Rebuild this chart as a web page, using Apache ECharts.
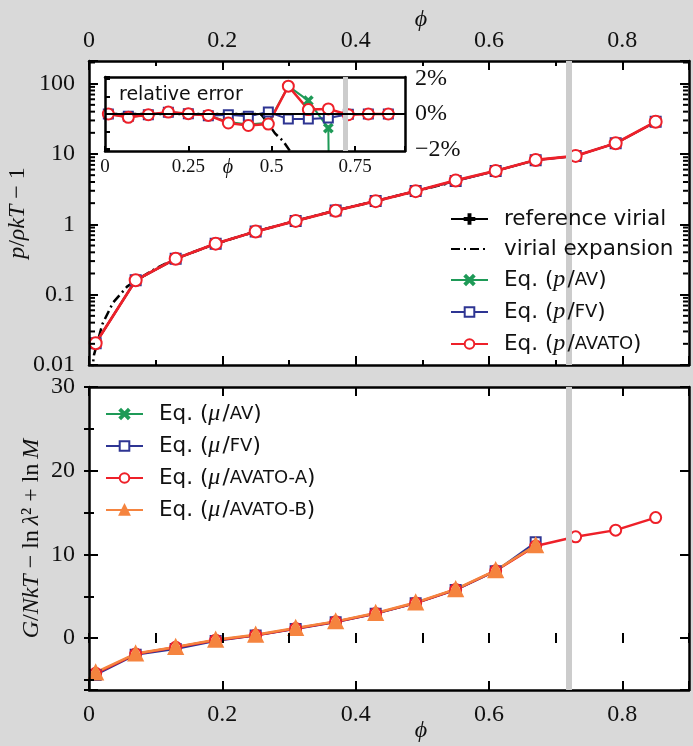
<!DOCTYPE html>
<html><head><meta charset="utf-8">
<style>html,body{margin:0;padding:0;background:#d9d9d9}#c{width:693px;height:746px}</style>
<script src="https://cdn.jsdelivr.net/npm/echarts@6.0.0/dist/echarts.min.js"></script>
</head><body><div id="c"></div>
<script>
// ---------------- data ----------------
const phi = [0.01,0.07,0.13,0.19,0.25,0.31,0.37,0.43,0.49,0.55,0.61,0.67,0.73,0.79,0.85];

// top panel: p/rho kT - 1
const pRef   = [0.0204,0.160,0.324,0.530,0.790,1.120,1.570,2.150,2.980,4.140,5.740,8.20,9.40,14.2,28.7];
const pAV    = [0.0204,0.160,0.324,0.531,0.790,1.119,1.563,2.137,2.965,4.205,5.784,8.13];
const pFV    = [0.0204,0.160,0.324,0.531,0.790,1.119,1.569,2.147,2.983,4.128,5.723,8.18,9.40,14.2,28.7];
const pAVATO = [0.0204,0.160,0.324,0.531,0.790,1.119,1.562,2.136,2.963,4.205,5.754,8.22,9.40,14.2,28.7];
const phiVir = [0.004,0.0075,0.02,0.036,0.057,0.07,0.10,0.13,0.19,0.25,0.31,0.37,0.43,0.49,0.55];
const pVir   = [0.0074,0.0139,0.038,0.077,0.130,0.158,0.235,0.325,0.530,0.790,1.120,1.570,2.140,2.960,4.060];

// inset: relative error (%)
const errRef   = [0,0,0,0,0,0,0,0,0,0,0,0,0,0,0];
const errAV    = [0,-0.19,-0.04,0.11,0.02,-0.08,-0.45,-0.60,-0.50,1.58,0.76,-0.80,-100];
const errFV    = [0,-0.13,-0.04,0.10,0.02,-0.10,-0.04,-0.13,0.11,-0.29,-0.29,-0.23,-0.02,0,0];
const errAVATO = [0,-0.19,-0.04,0.11,0.02,-0.08,-0.51,-0.65,-0.57,1.58,0.25,0.29,-0.04,0,0];
const phiVirErr = [0.01,0.10,0.20,0.30,0.40,0.45,0.47,0.49,0.51,0.535,0.555,0.57];
const errVir    = [0,0,0,0,0,0,-0.05,-0.55,-1.10,-1.55,-2.10,-2.60];

// bottom panel: G/NkT - ln lambda^2 + ln M
const muAV     = [-4.30,-1.90,-1.10,-0.25,0.35,1.15,1.95,2.95,4.20,5.80,8.05,11.10];
const muFV     = [-4.40,-2.00,-1.30,-0.35,0.30,1.10,1.90,2.90,4.15,5.75,8.00,11.45];
const muAVATOA = [-4.20,-1.90,-1.10,-0.25,0.35,1.15,1.95,2.95,4.20,5.80,8.05,11.00,12.10,12.90,14.40];
const muAVATOB = [-4.10,-1.85,-1.05,-0.20,0.40,1.20,2.00,3.00,4.25,5.85,8.10,11.10];

// axes / ticks
const phiMark = 0.72;
const xTicksMain = [0,0.2,0.4,0.6,0.8];
const xTicksInset = [0,0.25,0.5,0.75];
const yTicksLog = [0.01,0.1,1,10,100];
const yTicksMu = [0,10,20,30];
const yTicksErr = [-2,0,2];
const yMinorLog = [0.02,0.03,0.04,0.05,0.06,0.07,0.08,0.09,0.2,0.3,0.4,0.5,0.6,0.7,0.8,0.9,
                   2,3,4,5,6,7,8,9,20,30,40,50,60,70,80,90,200];

// ---------------- style ----------------
const SERIF = 'Liberation Serif, DejaVu Serif, serif', SANS = 'DejaVu Sans';
const RED='#ee2029', BLUE='#2e3593', GREEN='#1e9a57', ORANGE='#f5843f', GRAY='#cccccc';
const plusPath  = 'path://M4,0H6V4H10V6H6V10H4V6H0V4H4Z';
const crossPath = 'path://M1.4,0L5,3.6L8.6,0L10,1.4L6.4,5L10,8.6L8.6,10L5,6.4L1.4,10L0,8.6L3.6,5L0,1.4Z';
const PHI = '\u03D5';

function pairs(xs, ys){ return ys.map((y,i)=>[xs[i], y]); }
function near(v, arr){ return arr.some(t => Math.abs(v - t) < 1e-6 * Math.max(1, Math.abs(t))); }

function tickSeries(xi, yi, data, size, offset){
  return {type:'scatter', xAxisIndex:xi, yAxisIndex:yi, data, symbol:'rect', symbolSize:size, symbolOffset:offset,
    itemStyle:{color:'#000', opacity:1}, silent:true, clip:false, z:6, emphasis:{disabled:true}};
}

const axLine = {show:true, onZero:false, lineStyle:{color:'#000', width:2.5}};
const axTick = (len)=>({show:true, inside:true, length:len, lineStyle:{color:'#000', width:2}});
const noLine = {show:false};
const numLabel = {fontFamily:SERIF, fontSize:24, color:'#111'};

function fmtX(v){ return near(v, xTicksMain) ? String(+v.toFixed(1)) : ''; }
function fmtXi(v){ return near(v, xTicksInset) ? String(+v.toFixed(2)) : ''; }
function fmtLog(v){
  if (!near(v, yTicksLog)) return '';
  const r = Math.round(Math.log10(v));
  return r < 0 ? Math.pow(10, r).toFixed(-r) : String(Math.pow(10, r));
}
function fmtMu(v){ return near(v, yTicksMu) ? String(Math.round(v)) : ''; }
function fmtErr(v){ if (!near(v, yTicksErr)) return ''; const r = Math.round(v); return (r<0?'\u2212':'') + Math.abs(r) + '%'; }

const phiName = {fontFamily:SERIF, fontStyle:'italic', fontSize:24, color:'#111'};
const X = {type:'value', min:0, max:0.9, splitLine:{show:false}, z:4};

// minor-tick axes (no line, no labels)
function minorX(gi, pos){ return Object.assign({}, X, {gridIndex:gi, position:pos, interval:0.1, axisLine:noLine, axisTick:axTick(5), axisLabel:{show:false}}); }

const xAxes = [
  // 0: main top (labelled)
  Object.assign({}, X, {gridIndex:0, position:'top', interval:0.2, axisLine:axLine, axisTick:axTick(9),
   axisLabel:Object.assign({margin:8, formatter:fmtX}, numLabel),
   name:PHI, nameLocation:'middle', nameGap:29, nameMoveOverlap:false, nameTextStyle:Object.assign({padding:[0,0,0,64]}, phiName)}),
  // 1: main bottom
  Object.assign({}, X, {gridIndex:0, position:'bottom', interval:0.2, axisLine:axLine, axisTick:axTick(9), axisLabel:{show:false}}),
  // 2: inset bottom
  Object.assign({}, X, {gridIndex:1, position:'bottom', interval:0.25, axisLine:axLine, axisTick:axTick(5),
   axisLabel:{margin:7, formatter:fmtXi, fontFamily:SERIF, fontSize:19, color:'#111'},
   name:PHI, nameLocation:'middle', nameGap:7, nameMoveOverlap:false,
   nameTextStyle:{fontFamily:SERIF, fontStyle:'italic', fontSize:20, color:'#111', padding:[0,54,0,0]}}),
  // 3: inset top
  Object.assign({}, X, {gridIndex:1, position:'top', interval:0.25, axisLine:axLine, axisTick:{show:false}, axisLabel:{show:false}}),
  // 4: bottom panel bottom (labelled)
  Object.assign({}, X, {gridIndex:2, position:'bottom', interval:0.2, axisLine:axLine, axisTick:axTick(9),
   axisLabel:Object.assign({margin:13, formatter:fmtX}, numLabel),
   name:PHI, nameLocation:'middle', nameGap:29, nameMoveOverlap:false, nameTextStyle:Object.assign({padding:[0,0,0,64]}, phiName)}),
  // 5: bottom panel top
  Object.assign({}, X, {gridIndex:2, position:'top', interval:0.2, axisLine:axLine, axisTick:axTick(9), axisLabel:{show:false}}),
  // 6-9: minor ticks
  minorX(0, 'top'), minorX(0, 'bottom'), minorX(2, 'top'), minorX(2, 'bottom')
];

const nameRich = {i:{fontFamily:SERIF, fontStyle:'italic', fontSize:24, color:'#111'}};
const LOG = {type:'log', logBase:10, min:0.01, max:210, splitLine:{show:false}, z:4};
const MU = {type:'value', min:-6.2, max:30, splitLine:{show:false}, z:4};
const yAxes = [
  // 0: main left log
  Object.assign({}, LOG, {gridIndex:0, position:'left', axisLine:axLine, axisTick:axTick(9),
   axisLabel:Object.assign({margin:14, formatter:fmtLog}, numLabel),
   name:'{i|p}/{i|ρkT}\u2005\u2212\u20051', nameLocation:'middle', nameGap:59, nameRotate:90, nameMoveOverlap:false,
   nameTextStyle:{fontFamily:SERIF, fontSize:24, color:'#111', rich:nameRich}}),
  // 1: main right log
  Object.assign({}, LOG, {gridIndex:0, position:'right', axisLine:axLine, axisTick:axTick(9), axisLabel:{show:false}}),
  // 2: inset left
  {type:'value', gridIndex:1, position:'left', min:-2.1, max:2.1, axisLine:axLine, axisTick:axTick(5), z:4,
   axisLabel:{show:false}, splitLine:{show:false}},
  // 3: inset right (labelled)
  {type:'value', gridIndex:1, position:'right', min:-2.1, max:2.1, axisLine:axLine, axisTick:{show:false}, z:4,
   axisLabel:Object.assign({margin:10, formatter:fmtErr}, numLabel), splitLine:{show:false}},
  // 4: bottom left
  Object.assign({}, MU, {gridIndex:2, position:'left', axisLine:axLine, axisTick:axTick(9),
   axisLabel:Object.assign({margin:14, formatter:fmtMu}, numLabel),
   name:'{i|G}/{i|NkT}\u2005\u2212\u2005ln\u2009{i|λ}²\u2005+\u2005ln\u2009{i|M}', nameLocation:'middle', nameGap:45, nameRotate:90, nameMoveOverlap:false,
   nameTextStyle:{fontFamily:SERIF, fontSize:24, color:'#111', rich:nameRich}}),
  // 5: bottom right
  Object.assign({}, MU, {gridIndex:2, position:'right', axisLine:axLine, axisTick:axTick(9), axisLabel:{show:false}}),
  // 6-7: bottom minor ticks (5-unit steps)
  Object.assign({}, MU, {gridIndex:2, position:'left', splitNumber:8, axisLine:noLine, axisTick:axTick(5), axisLabel:{show:false}}),
  Object.assign({}, MU, {gridIndex:2, position:'right', splitNumber:8, axisLine:noLine, axisTick:axTick(5), axisLabel:{show:false}})
];

const grayLine = {silent:true, symbol:['none','none'], label:{show:false}, animation:false,
  lineStyle:{color:GRAY, width:6, type:'solid'}, data:[{xAxis:phiMark}]};

function lineSeries(name, xi, yi, data, color, symbol, size, width, extra){
  return Object.assign({type:'line', name, xAxisIndex:xi, yAxisIndex:yi, data, symbol, symbolSize:size,
    showAllSymbol:true, clip:true, lineStyle:{color, width}, itemStyle:{color, borderColor:color, borderWidth:2},
    emphasis:{disabled:true}}, extra||{});
}
const dashDot = [9,4,2,4];

const series = [
  // main panel
  lineSeries('reference virial', 0, 0, pairs(phi, pRef), '#000', plusPath, 9, 2, {markLine:grayLine}),
  lineSeries('virial expansion', 0, 0, pairs(phiVir, pVir), '#000', 'none', 0, 2.5, {lineStyle:{color:'#000', width:2.5, type:dashDot}}),
  lineSeries('Eq. (p/AV)', 0, 0, pairs(phi, pAV), GREEN, crossPath, 8, 2),
  lineSeries('Eq. (p/FV)', 0, 0, pairs(phi, pFV), BLUE, 'emptyRect', 10, 2),
  lineSeries('Eq. (p/AVATO)', 0, 0, pairs(phi, pAVATO), RED, 'emptyCircle', 12, 2.8),
  // log minor ticks (left and right edges)
  tickSeries(0, 0, yMinorLog.map(v=>[0, v]), [5, 2], [3.5, 0]),
  tickSeries(0, 0, yMinorLog.map(v=>[0.9, v]), [5, 2], [-3.5, 0]),
  // inset
  lineSeries('err ref', 2, 2, pairs(phi, errRef), '#000', 'none', 0, 2, {markLine:{silent:true, symbol:['none','none'], label:{show:false}, animation:false,
     data:[{xAxis:phiMark, lineStyle:{color:GRAY, width:5, type:'solid'}}, {yAxis:0, lineStyle:{color:'#000', width:2, type:'solid'}}]}}),
  lineSeries('err vir', 2, 2, pairs(phiVirErr, errVir), '#000', 'none', 0, 2.5, {lineStyle:{color:'#000', width:2.5, type:dashDot}}),
  lineSeries('err AV', 2, 2, pairs(phi, errAV), GREEN, crossPath, 8, 2),
  lineSeries('err FV', 2, 2, pairs(phi, errFV), BLUE, 'emptyRect', 9, 2),
  lineSeries('err AVATO', 2, 2, pairs(phi, errAVATO), RED, 'emptyCircle', 11, 2.5),
  // bottom panel
  lineSeries('Eq. (μ/AV)', 4, 4, pairs(phi, muAV), GREEN, crossPath, 8, 2, {markLine:grayLine}),
  lineSeries('Eq. (μ/FV)', 4, 4, pairs(phi, muFV), BLUE, 'emptyRect', 10, 2),
  lineSeries('Eq. (μ/AVATO-A)', 4, 4, pairs(phi, muAVATOA), RED, 'emptyCircle', 11, 2.5),
  lineSeries('Eq. (μ/AVATO-B)', 4, 4, pairs(phi, muAVATOB), ORANGE, 'triangle', 14, 2.5)
];

function legendFmt(name){
  const m = name.match(/^Eq\. \((p|μ)\/(.*)\)$/);
  return m ? 'Eq. ({i|' + m[1] + '}\u200A/{s|' + m[2] + '})' : name;
}
const legRich = {i:{fontFamily:SERIF, fontStyle:'italic', fontSize:24, color:'#111', lineHeight:22},
                 s:{fontFamily:SANS, fontSize:18, color:'#111', lineHeight:22}};
const legBase = {orient:'vertical', itemWidth:37, itemHeight:12, itemGap:8, padding:0, selectedMode:false, z:50,
  formatter:legendFmt, textStyle:{fontFamily:SANS, fontSize:21.5, color:'#111', lineHeight:22, padding:[0,0,0,11], rich:legRich}};
const hiddenSym = {color:'rgba(0,0,0,0)', borderColor:'rgba(0,0,0,0)', borderWidth:0};

const option = {
  backgroundColor:'#d9d9d9',
  animation:false,
  grid:[
    {left:89, top:61, width:600, height:304, show:false, outerBoundsMode:'none'},
    {left:105, top:77, width:300, height:74, show:false, outerBoundsMode:'none'},
    {left:89, top:387, width:600, height:303, show:false, outerBoundsMode:'none'}
  ],
  xAxis:xAxes, yAxis:yAxes,
  legend:[
    Object.assign({left:450, top:208, data:['reference virial', {name:'virial expansion', itemStyle:hiddenSym},'Eq. (p/AV)','Eq. (p/FV)','Eq. (p/AVATO)']}, legBase),
    Object.assign({left:105, top:402, data:['Eq. (μ/AV)','Eq. (μ/FV)','Eq. (μ/AVATO-A)','Eq. (μ/AVATO-B)']}, legBase)
  ],
  graphic:[
    // white panel backgrounds behind everything
    {type:'rect', silent:true, z:-100, shape:{x:89, y:61, width:600, height:304}, style:{fill:'#fff'}},
    {type:'rect', silent:true, z:-100, shape:{x:89, y:387, width:600, height:303}, style:{fill:'#fff'}},
    {type:'text', left:119, top:86, z:100, style:{text:'relative error', font:'19px "DejaVu Sans"', fill:'#111'}}
  ],
  series
};

const chart = echarts.init(document.getElementById('c'));
chart.setOption(option);
</script></body></html>
